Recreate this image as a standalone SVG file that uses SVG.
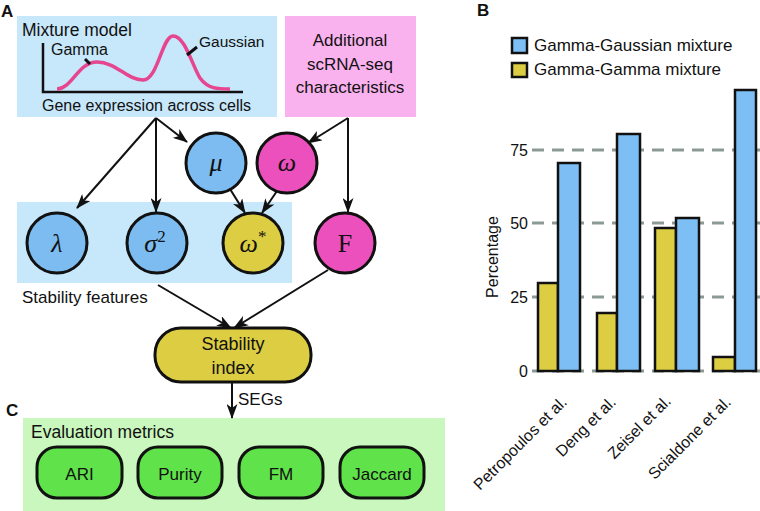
<svg xmlns="http://www.w3.org/2000/svg" width="760" height="511" viewBox="0 0 760 511">
<defs>
<style>
.t{font-family:"Liberation Sans",Arial,sans-serif;font-size:17px;fill:#111}
.b{font-family:"Liberation Sans",Arial,sans-serif;font-size:17px;font-weight:bold;fill:#111}
.g{font-family:"Liberation Serif","Times New Roman",serif;font-size:26px;font-style:italic;fill:#111;text-anchor:middle}
.c{stroke:#111;stroke-width:3}
.ar{stroke:#111;stroke-width:2;fill:none;marker-end:url(#ah)}
.bar{stroke:#111;stroke-width:2.5}
.grid{stroke:#8c9a95;stroke-width:3;stroke-dasharray:12 8}
</style>
<marker id="ah" viewBox="0 0 15 11" refX="14" refY="5.5" markerWidth="15" markerHeight="11" markerUnits="userSpaceOnUse" orient="auto">
<path d="M0,0 L15,5.5 L0,11 L4,5.5 z" fill="#111"/>
</marker>
</defs>
<rect width="760" height="511" fill="#fff"/>

<text class="b" x="1" y="17">A</text>
<text class="b" x="477" y="16">B</text>
<text class="b" x="6" y="416">C</text>

<g id="mixture-model">
<rect x="17" y="16" width="260" height="101" fill="#c7e7fb"/>
<text class="t" x="22" y="36" style="font-size:17.5px">Mixture model</text>
<path d="M43,43 V92 H243" fill="none" stroke="#111" stroke-width="2.5"/>
<path d="M57,89 C72,89 78,62 97,62 C116,62 127,80 143,80 C158,80 162,36 173,36 C185,36 192,65 200,78 C208,89 218,89 230,89" fill="none" stroke="#e6458f" stroke-width="3.5"/>
<line x1="85" y1="59" x2="90" y2="64" stroke="#111" stroke-width="3"/>
<line x1="187" y1="55" x2="197" y2="47" stroke="#111" stroke-width="3"/>
<text class="t" x="51" y="55" style="font-size:16px">Gamma</text>
<text class="t" x="199" y="47" style="font-size:15.5px">Gaussian</text>
<text class="t" x="42" y="111" style="font-size:16px">Gene expression across cells</text>
</g>

<g id="additional">
<rect x="285" y="16" width="131" height="101" fill="#fab2ef"/>
<text class="t" x="350" y="46" text-anchor="middle">Additional</text>
<text class="t" x="350" y="70" text-anchor="middle">scRNA-seq</text>
<text class="t" x="350" y="93" text-anchor="middle">characteristics</text>
</g>

<g id="stability-features">
<rect x="17" y="202" width="275" height="81" fill="#c7e7fb"/>
<text class="t" x="22" y="303">Stability features</text>
</g>

<g id="node-mu"><circle class="c" cx="216" cy="163" r="30" fill="#7dbcf0"/><text class="g" x="216" y="171">μ</text></g>
<g id="node-omega"><circle class="c" cx="287" cy="163" r="30" fill="#ec50bd"/><text class="g" x="287" y="171">ω</text></g>
<g id="node-lambda"><circle class="c" cx="57" cy="243" r="30" fill="#7dbcf0"/><text class="g" x="57" y="252">λ</text></g>
<g id="node-sigma"><circle class="c" cx="157" cy="243" r="30" fill="#7dbcf0"/><text class="g" x="155" y="252">σ<tspan dy="-10" style="font-size:17px;font-style:normal">2</tspan></text></g>
<g id="node-omegastar"><circle class="c" cx="253" cy="243" r="30" fill="#dccd42"/><text class="g" x="253" y="252">ω<tspan dy="-10" style="font-size:17px;font-style:normal">*</tspan></text></g>
<g id="node-F"><circle class="c" cx="345" cy="243" r="30" fill="#ec50bd"/><text class="g" x="345" y="252" style="font-style:normal">F</text></g>

<g id="stability-index">
<rect x="155" y="328" width="156" height="54" rx="26" fill="#dccd42" stroke="#111" stroke-width="3"/>
<text class="t" x="233" y="350" text-anchor="middle" style="font-size:18px">Stability</text>
<text class="t" x="233" y="374" text-anchor="middle" style="font-size:18px">index</text>
</g>

<g id="evaluation-metrics">
<rect x="23" y="418" width="422" height="93" fill="#c9f7bd"/>
<text class="t" x="31" y="438" style="font-size:17.5px">Evaluation metrics</text>
<g id="metric-ARI"><rect x="37" y="447" width="85" height="51" rx="20" fill="#5fe24a" stroke="#111" stroke-width="3"/><text class="t" x="79.5" y="480" text-anchor="middle">ARI</text></g>
<g id="metric-Purity"><rect x="138" y="447" width="84" height="51" rx="20" fill="#5fe24a" stroke="#111" stroke-width="3"/><text class="t" x="180" y="480" text-anchor="middle">Purity</text></g>
<g id="metric-FM"><rect x="239" y="447" width="84" height="51" rx="20" fill="#5fe24a" stroke="#111" stroke-width="3"/><text class="t" x="281" y="480" text-anchor="middle">FM</text></g>
<g id="metric-Jaccard"><rect x="340" y="447" width="84" height="51" rx="20" fill="#5fe24a" stroke="#111" stroke-width="3"/><text class="t" x="382" y="480" text-anchor="middle">Jaccard</text></g>
</g>

<g id="connectors">
<line class="ar" x1="156" y1="118" x2="77" y2="208"/>
<line class="ar" x1="156" y1="118" x2="156" y2="212"/>
<line class="ar" x1="156" y1="118" x2="187" y2="142"/>
<line class="ar" x1="348" y1="118" x2="308" y2="143"/>
<line class="ar" x1="348" y1="118" x2="348" y2="212"/>
<line class="ar" x1="230" y1="189" x2="245" y2="213"/>
<line class="ar" x1="277" y1="191" x2="262" y2="213"/>
<line class="ar" x1="158" y1="285" x2="231" y2="328"/>
<line class="ar" x1="328" y1="270" x2="234" y2="328"/>
<line class="ar" x1="232" y1="382" x2="232" y2="418"/>
<text class="t" x="238" y="405">SEGs</text>
</g>

<g id="chart">
<g id="legend">
<rect x="512" y="38" width="15" height="15" fill="#7dbff5" stroke="#111" stroke-width="2.5"/>
<text class="t" x="534" y="51" style="font-size:17px">Gamma-Gaussian mixture</text>
<rect x="512" y="63" width="15" height="14" fill="#dccd42" stroke="#111" stroke-width="2.5"/>
<text class="t" x="534" y="75" style="font-size:17px">Gamma-Gamma mixture</text>
</g>
<line class="grid" x1="532" y1="150" x2="760" y2="150"/>
<line class="grid" x1="532" y1="223" x2="760" y2="223"/>
<line class="grid" x1="532" y1="297" x2="760" y2="297"/>
<line class="grid" x1="532" y1="371" x2="760" y2="371"/>
<text class="t" x="528" y="156" text-anchor="end" style="font-size:16px">75</text>
<text class="t" x="528" y="229" text-anchor="end" style="font-size:16px">50</text>
<text class="t" x="528" y="303" text-anchor="end" style="font-size:16px">25</text>
<text class="t" x="528" y="377" text-anchor="end" style="font-size:16px">0</text>
<text class="t" transform="translate(498,257) rotate(-90)" text-anchor="middle" style="font-size:16px">Percentage</text>
<rect class="bar" x="538" y="283" width="20" height="88" fill="#dccd42"/>
<rect class="bar" x="558" y="163" width="22" height="208" fill="#7dbff5"/>
<rect class="bar" x="597" y="313" width="20" height="58" fill="#dccd42"/>
<rect class="bar" x="617" y="134" width="23" height="237" fill="#7dbff5"/>
<rect class="bar" x="655" y="228" width="21" height="143" fill="#dccd42"/>
<rect class="bar" x="676" y="218" width="23" height="153" fill="#7dbff5"/>
<rect class="bar" x="713" y="357" width="22" height="14" fill="#dccd42"/>
<rect class="bar" x="735" y="90" width="21" height="281" fill="#7dbff5"/>
<text class="t" transform="translate(568,403) rotate(-45)" text-anchor="end" style="font-size:16px">Petropoulos et al.</text>
<text class="t" transform="translate(617,403) rotate(-45)" text-anchor="end" style="font-size:16px">Deng et al.</text>
<text class="t" transform="translate(672,402) rotate(-45)" text-anchor="end" style="font-size:16px">Zeisel et al.</text>
<text class="t" transform="translate(732,403) rotate(-45)" text-anchor="end" style="font-size:16px">Scialdone et al.</text>
</g>
</svg>
